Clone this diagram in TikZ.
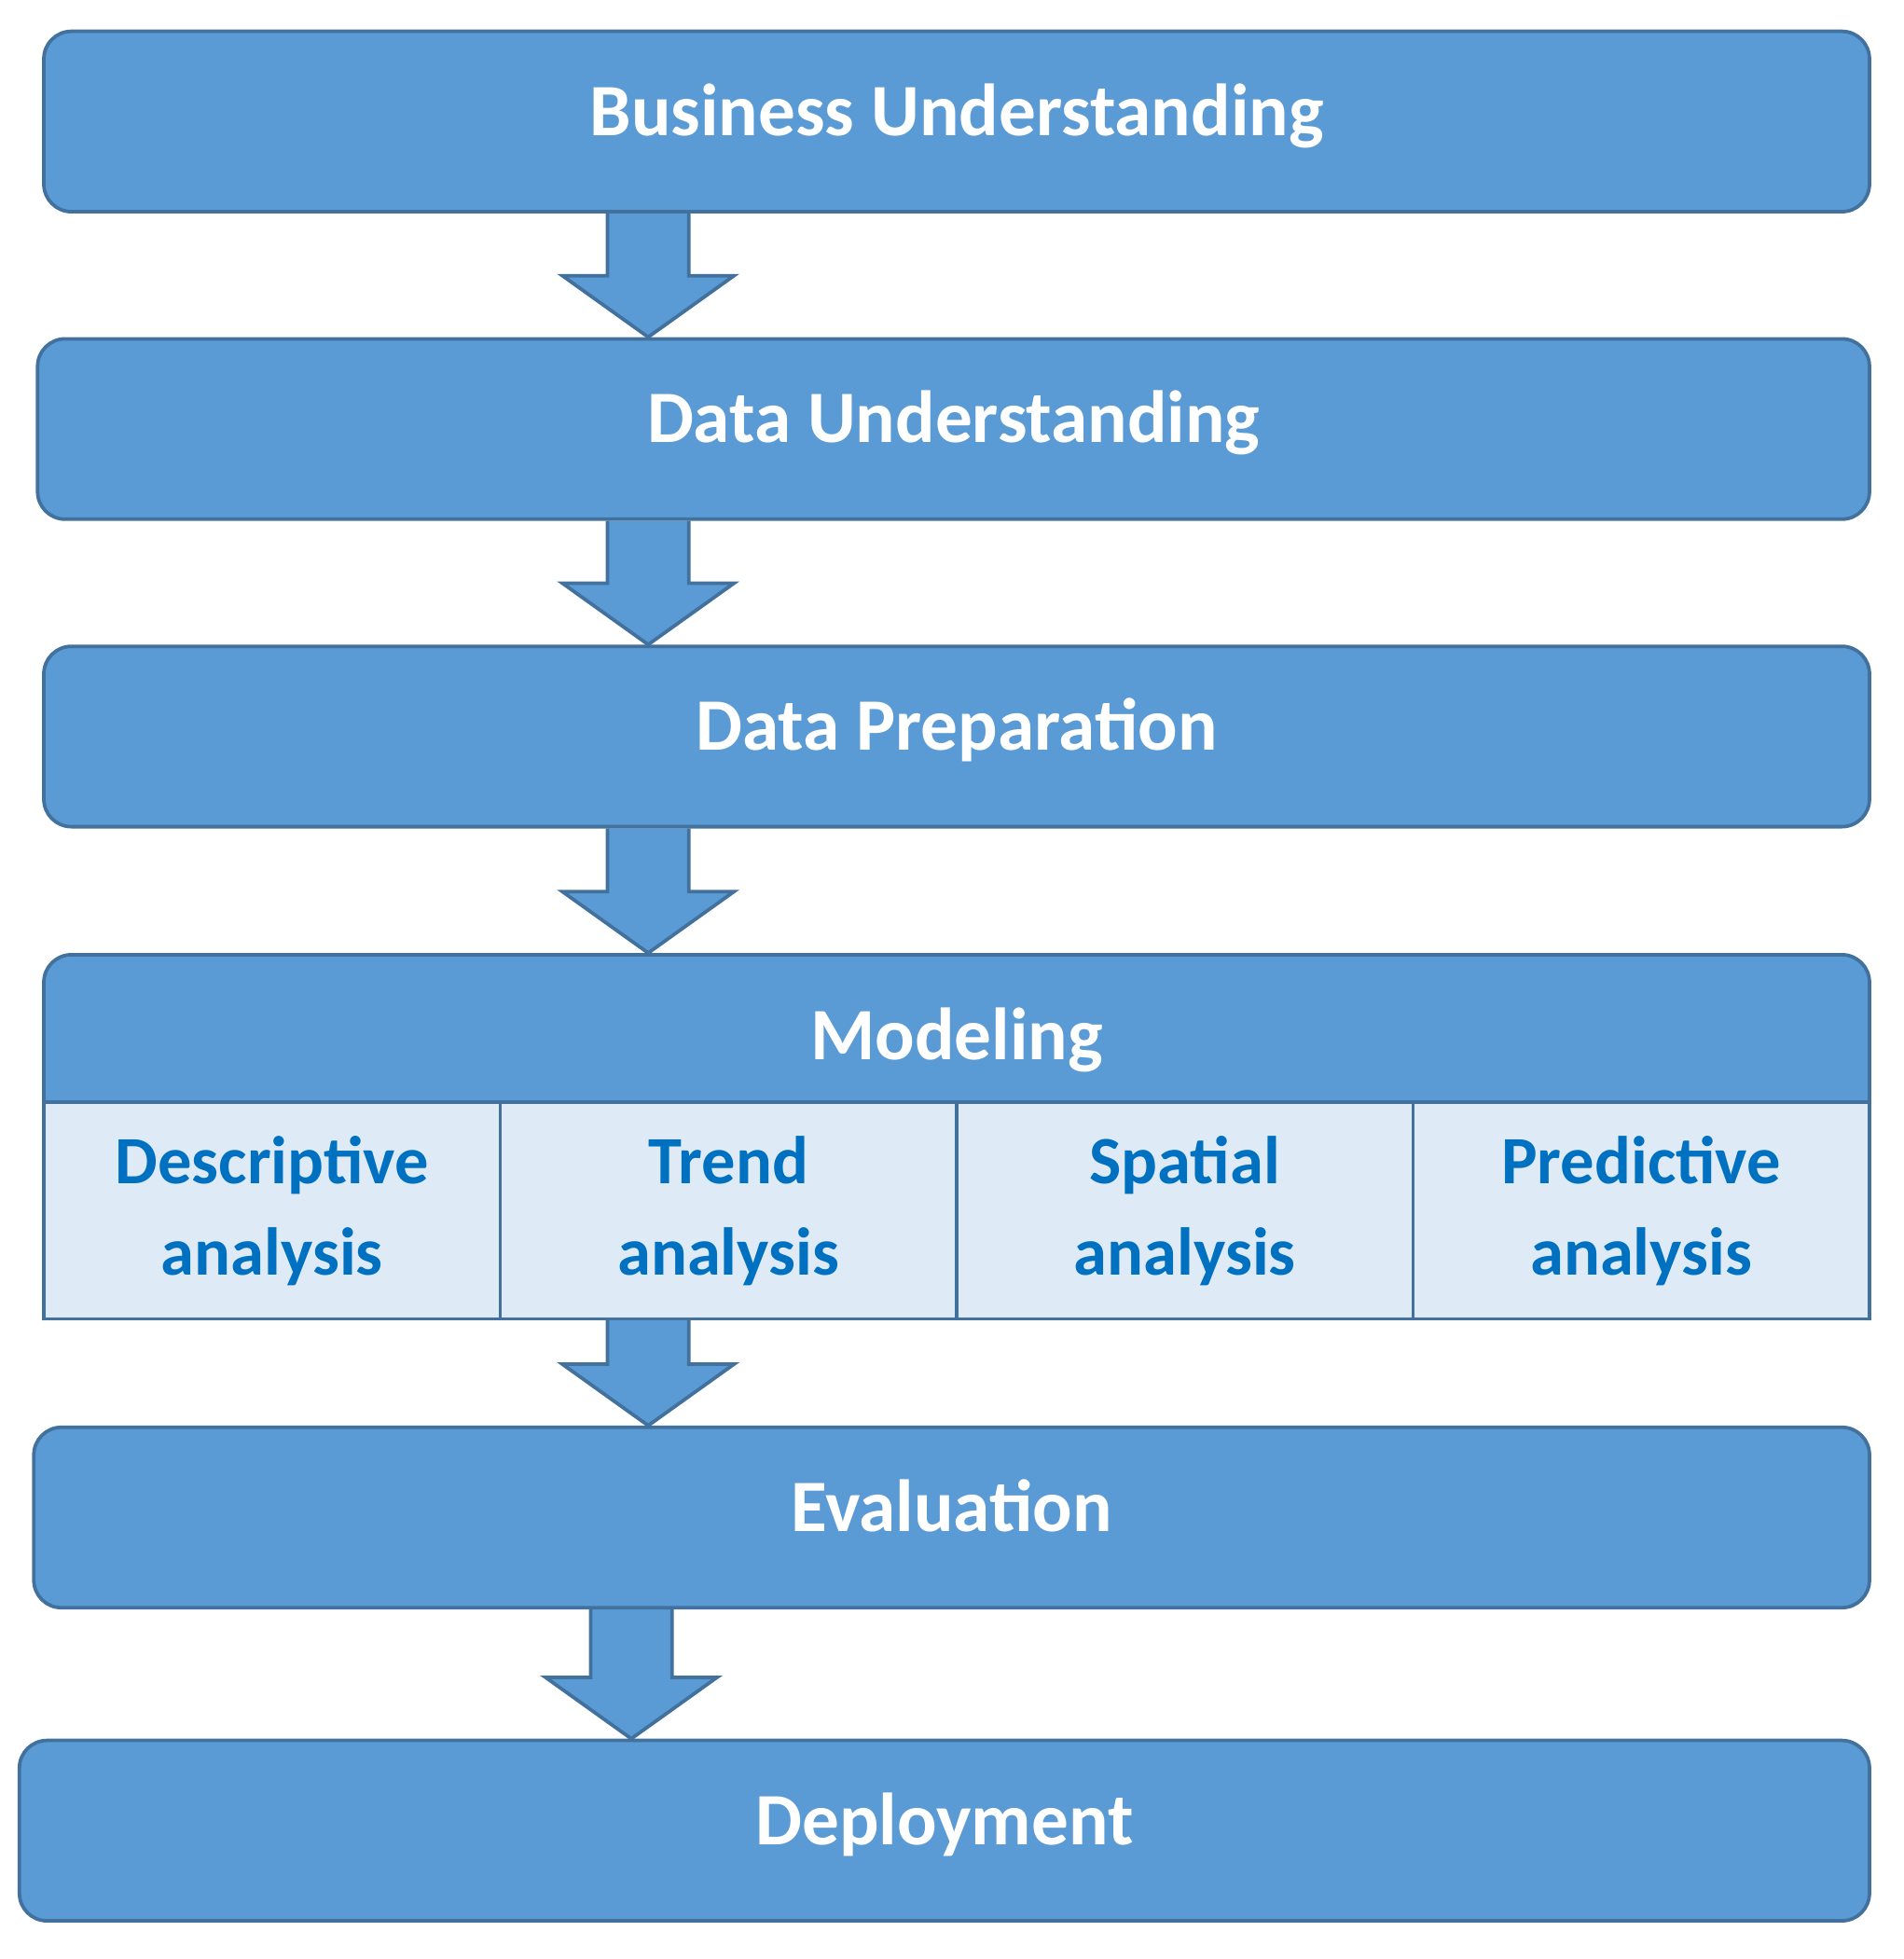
\documentclass[tikz,border=0pt]{standalone}
\usepackage{fontspec}
\setmainfont{Carlito}
\usetikzlibrary{calc}
\pgfdeclarelayer{bg}
\pgfsetlayers{bg,main}
\definecolor{boxblue}{HTML}{5B9BD5}
\definecolor{boxedge}{HTML}{41719C}
\definecolor{cellfill}{HTML}{DEEBF7}
\definecolor{celltext}{HTML}{0070C0}
\newcommand{\mkarrow}[3]{\draw[flow] let \p1=(#1.south -| #3), \p2=(#2.north -| #3) in (\x1-32.5pt,\y1) -- (\x1-32.5pt,\y2+49pt) -- (\x1-68.5pt,\y2+49pt) -- (\x1,\y2) -- (\x1+68.5pt,\y2+49pt) -- (\x1+32.5pt,\y2+49pt) -- (\x1+32.5pt,\y1);}

\begin{document}
\begin{tikzpicture}[
    x=1pt, y=-1pt,
    stage/.style={draw=boxedge, fill=boxblue, line width=2.8pt, rounded corners=22pt,
      minimum height=144pt, inner sep=0pt},
    label/.style={text=white, inner sep=0pt, anchor=base, font=\fontsize{59}{65}\selectfont\bfseries},
    cell/.style={draw=boxedge, fill=cellfill, line width=2.8pt, minimum width=364.375pt,
      minimum height=173pt, inner sep=0pt, align=center, text=celltext,
      font=\fontsize{54}{73}\selectfont\bfseries},
    flow/.style={draw=boxedge, fill=boxblue, line width=2.8pt, line join=miter}
    ]
    \useasboundingbox (0,0) rectangle (1520,1564);
    \coordinate (colA) at (517.5,0);
    \coordinate (colB) at (504,0);
    % stages
    \node[stage, minimum width=1457.5pt] (bu) at (763.75,97) {};
    \node[stage, minimum width=1462.5pt] (du) at (761.25,342.5) {};
    \node[stage, minimum width=1457.5pt] (dp) at (763.75,588) {};
    \node[stage, minimum width=1465.5pt] (ev) at (759.75,1211.5) {};
    \node[stage, minimum width=1477pt] (dep) at (754,1461.5) {};
    % modeling block: header, then the four analyses below it
    \node[minimum width=1457.5pt, minimum height=292pt, inner sep=0pt] (mod) at (763.75,907) {};
    \node[stage, minimum width=1457.5pt, minimum height=150pt, anchor=north] (hd) at (mod.north) {};
    \foreach \name/\txt [count=\i] in {desc/Descriptive, trend/Trend, spat/Spatial, pred/Predictive}
      \node[cell] (\name) at ({35+364.375*(\i-0.5)},966.5) {\txt\\analysis};
    % arrows
    \begin{pgfonlayer}{bg}
    \mkarrow{bu}{du}{colA}
    \mkarrow{du}{dp}{colA}
    \mkarrow{dp}{mod}{colA}
    \mkarrow{mod}{ev}{colA}
    \mkarrow{ev}{dep}{colB}
    \end{pgfonlayer}
    % texts
    \node[label] (tbu) at ([yshift=-11pt]bu.center) {Business Understanding};
    \node[label] (tdu) at ([yshift=-11pt]du.center) {Data Understanding};
    \node[label] (tdp) at ([yshift=-11pt]dp.center) {Data Preparation};
    \node[label] (tmod) at (763.75,846) {Modeling};
    \node[label] (tev) at ([yshift=-11.5pt]ev.center) {Evaluation};
    \node[label] (tdep) at ([yshift=-11.5pt]dep.center) {Deployment};
\end{tikzpicture}
\end{document}
